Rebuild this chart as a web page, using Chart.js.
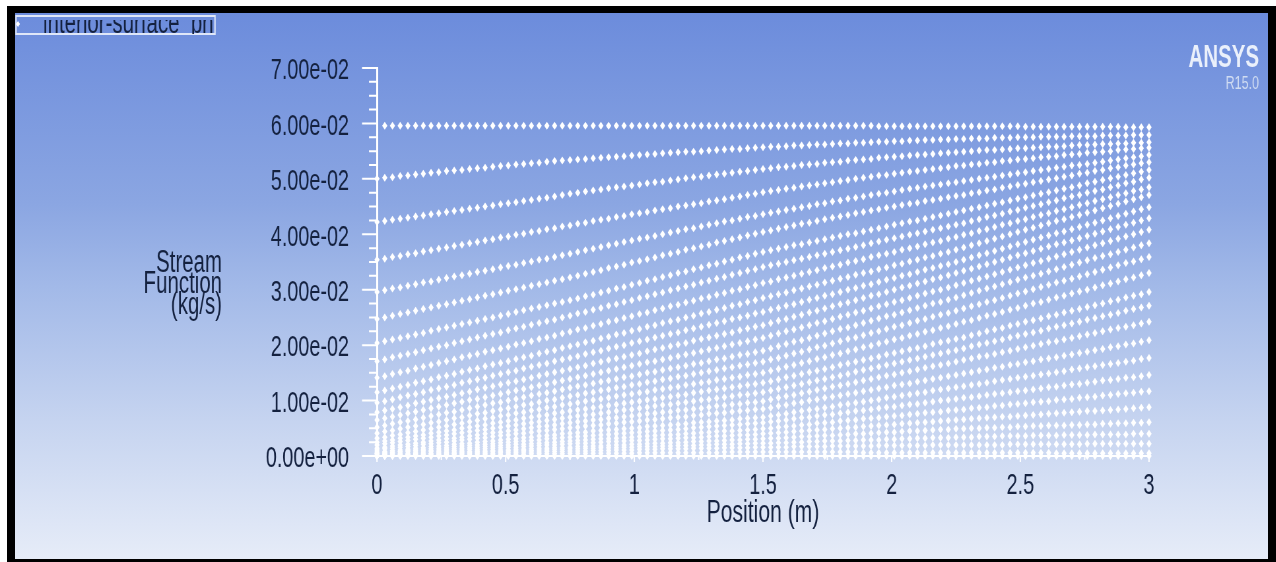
<html lang="en">
<head>
<meta charset="utf-8">
<title>Stream Function</title>
<script src="https://cdn.jsdelivr.net/npm/chart.js"></script>
<style>
    html, body { margin: 0; height: 100%; background: white; overflow: hidden; }
    .frame { position: absolute; left: 7px; top: 6px; width: 1269px; height: 556px; background: black; }
    .inner {
        position: absolute; left: 15px; top: 13px; width: 1253px; height: 546px;
        background: linear-gradient(to bottom, #6c8cdc 0%, #8ba6e2 35%, #a2b9e8 50%, #c6d4f0 75%, #e6ecf8 100%);
    }
    /* the original picture is a wide plot squeezed sideways, so draw it wide and squeeze it too */
    #chart { position: absolute; left: 0; top: 0; transform-origin: 0 0; transform: scaleX(0.66); filter: blur(0.5px); }
</style>
</head>
<body>
<div class="frame"></div>
<div class="inner"></div>
<canvas id="chart" width="1933" height="562"></canvas>
<script>
// Position (m) of each mesh column
const positions = [0,0.03,0.06,0.09,0.12,0.15,0.18,0.21,0.24,0.27,0.3,0.33,0.36,0.39,0.42,0.45,0.48,0.51,0.54,0.57,0.6,0.63,0.66,0.69,0.72,0.75,
0.78,0.81,0.84,0.87,0.9,0.93,0.96,0.99,1.02,1.05,1.08,1.11,1.14,1.17,1.2,1.23,1.26,1.29,1.32,1.35,1.38,1.41,1.44,1.47,1.5,
1.53,1.56,1.59,1.62,1.65,1.68,1.71,1.74,1.77,1.8,1.83,1.86,1.89,1.92,1.95,1.98,2.01,2.04,2.07,2.1,2.13,2.16,2.19,2.22,2.25,
2.28,2.31,2.34,2.37,2.4,2.43,2.46,2.49,2.52,2.55,2.58,2.61,2.64,2.67,2.7,2.73,2.76,2.79,2.82,2.85,2.88,2.91,2.94,2.97,3];

// Stream function per mesh row, in units of 1e-4 kg/s
const row01 = [null,596,596,596,596,596,596,596,596,596,596,596,596,596,596,596,596,596,596,596,596,596,596,596,596,596,
596,596,596,596,596,596,596,596,596,596,596,596,596,596,596,596,596,596,596,596,596,596,596,596,596,
596,596,596,596,596,596,596,596,596,596,596,596,596,596,595,595,595,595,595,595,595,595,595,595,595,
595,595,595,595,595,595,595,595,594,594,594,594,594,594,594,594,594,594,594,594,594,593,593,593,593];
const row02 = [500,502,503,505,506,508,509,511,512,514,515,516,518,519,520,522,523,524,526,527,528,529,531,532,533,534,
535,536,537,538,539,540,541,542,543,544,545,546,547,548,549,549,550,551,552,553,554,554,555,556,557,
558,558,559,560,560,561,562,562,563,564,564,565,565,566,567,567,568,568,569,569,570,570,571,571,572,
572,573,573,573,574,574,574,575,575,575,576,576,576,576,577,577,577,577,578,578,578,578,579,579,579];
const row03 = [422,424,426,428,430,432,434,436,438,440,442,444,446,448,450,452,454,456,458,460,462,464,466,468,471,473,
475,477,479,481,483,485,486,488,490,492,494,495,497,499,501,503,504,506,508,509,511,513,514,516,518,
519,521,522,523,525,526,527,529,530,531,533,534,535,536,538,539,540,541,542,543,544,545,546,547,548,
549,550,551,552,552,553,554,555,555,556,557,558,558,559,560,561,561,562,563,563,564,564,565,565,566];
const row04 = [354,356,359,361,364,366,369,371,374,376,379,381,384,386,389,391,394,396,399,401,404,406,409,411,414,416,
419,421,424,426,428,431,433,436,438,440,443,445,447,450,452,454,456,459,461,463,466,468,471,473,476,
478,480,482,484,486,488,490,492,494,496,498,500,502,504,506,507,509,511,513,514,516,518,519,521,523,
524,526,527,529,530,532,533,535,536,537,539,540,541,543,544,545,547,548,549,550,552,553,554,555,556];
const row05 = [296,299,302,304,307,310,313,315,318,321,324,326,329,332,334,337,340,343,345,348,351,354,356,359,362,365,
368,371,374,377,380,383,386,389,392,394,397,400,403,406,409,411,414,417,420,423,425,428,431,433,436,
439,441,444,446,449,451,454,456,459,461,464,466,468,471,473,475,477,480,482,484,486,488,490,492,494,
496,498,500,502,504,506,508,510,512,514,516,518,520,522,524,525,527,529,531,533,535,537,539,541,543];
const row06 = [247,250,253,256,259,262,265,268,271,274,277,280,283,286,289,292,295,298,301,304,307,310,313,316,319,322,
325,329,332,335,339,342,345,349,352,355,358,362,365,368,372,375,378,381,385,388,391,394,398,401,404,
407,410,413,416,419,421,424,427,430,432,435,438,440,443,445,448,450,453,455,457,460,462,464,467,469,
471,474,476,479,481,484,486,489,491,494,496,499,501,504,506,509,511,514,516,519,521,524,526,528,530];
const row07 = [204,207,210,213,216,219,222,226,229,232,235,238,241,244,247,250,253,256,260,263,266,269,272,275,278,281,
284,288,291,295,298,302,305,309,312,316,319,323,326,330,333,337,340,344,347,351,354,358,361,365,368,
371,374,377,380,382,385,388,391,394,397,400,402,405,408,411,414,417,420,423,425,428,431,434,437,440,
443,446,449,452,455,458,461,464,467,470,473,476,479,482,485,488,492,495,498,501,504,507,510,513,516];
const row08 = [171,174,178,181,184,187,191,194,197,200,204,207,210,214,217,220,223,227,230,233,237,240,243,246,250,253,
257,260,264,267,271,274,278,281,285,288,292,295,299,302,306,309,313,316,320,323,327,330,334,337,341,
344,347,350,353,356,359,362,365,368,371,374,377,380,384,387,390,393,396,399,402,405,408,411,414,417,
420,424,427,431,434,437,441,444,448,451,454,458,461,465,468,471,475,478,481,485,488,492,495,499,502];
const row09 = [141,144,148,151,154,158,161,164,168,171,174,178,181,184,188,191,194,197,201,204,207,211,214,217,221,224,
228,231,235,238,242,245,249,252,256,259,263,266,270,273,277,280,284,287,291,294,298,301,305,308,312,
315,319,322,325,329,332,335,339,342,345,349,352,355,359,362,365,368,372,375,378,382,385,388,392,395,
399,402,406,409,413,417,420,424,427,431,435,438,442,445,449,453,456,460,463,467,471,474,478,481,485];
const row10 = [115,118,122,125,128,132,135,138,142,145,148,152,155,158,162,165,168,171,175,178,181,185,188,191,195,198,
201,205,208,212,215,219,222,226,229,233,236,240,243,246,250,253,257,260,264,267,271,274,278,281,285,
288,292,295,299,302,306,309,313,316,320,323,327,330,333,337,340,344,347,351,354,358,361,365,368,372,
376,380,384,388,392,396,400,404,408,412,416,420,424,427,431,435,439,443,447,451,455,459,463,467,471];
const row11 = [96,99,102,106,109,112,115,119,122,125,128,132,135,138,141,145,148,151,154,158,161,164,167,171,174,177,
180,184,187,190,194,197,200,204,207,210,214,217,220,223,227,230,233,237,240,243,247,250,253,257,260,
264,267,271,274,278,282,285,289,292,296,300,303,307,310,314,318,321,325,328,332,336,339,343,346,350,
354,358,362,366,370,374,378,382,386,390,394,398,402,405,409,413,417,421,425,429,433,437,441,445,449];
const row12 = [79,82,85,88,91,95,98,101,104,107,110,113,116,120,123,126,129,132,135,138,141,145,148,151,154,157,
160,163,167,170,173,176,179,182,185,189,192,195,198,201,204,208,211,214,217,220,223,227,230,233,236,
240,244,247,251,255,259,262,266,270,274,277,281,285,289,292,296,300,304,307,311,315,319,322,326,330,
334,338,342,346,350,354,358,362,366,370,374,378,382,385,389,393,397,401,405,409,413,417,421,425,429];
const row13 = [65,68,71,74,77,80,83,86,89,92,95,98,101,103,106,109,112,115,118,121,124,127,130,133,136,139,
142,145,148,151,154,157,160,163,166,169,171,174,177,180,183,186,189,192,195,198,201,204,207,210,213,
217,221,225,228,232,236,240,243,247,251,255,259,262,266,270,274,278,281,285,289,293,297,300,304,308,
312,316,320,324,328,332,336,340,344,348,352,356,360,364,368,372,376,380,384,388,392,396,400,404,408];
const row14 = [52,55,58,61,63,66,69,72,75,78,80,83,86,89,92,95,97,100,103,106,109,112,114,117,120,123,
126,128,131,134,136,139,142,144,147,150,152,155,158,160,163,166,168,171,174,176,179,182,184,187,190,
194,198,202,206,209,213,217,221,225,229,232,236,240,244,248,252,255,259,263,267,271,275,278,282,286,
290,294,298,302,306,310,314,318,322,325,329,333,337,341,345,349,353,357,361,364,368,372,376,380,384];
const row15 = [41,44,46,49,52,54,57,60,62,65,68,70,73,76,78,81,84,86,89,92,94,97,100,102,105,108,
110,113,115,118,120,123,125,128,130,133,135,138,140,143,145,148,150,153,155,158,160,163,165,168,170,
174,177,181,185,188,192,196,199,203,207,211,214,218,222,225,229,233,236,240,244,247,251,255,258,262,
266,270,274,278,281,285,289,293,297,301,305,309,313,316,320,324,328,332,336,340,344,348,351,355,359];
const row16 = [32,34,37,39,42,44,47,49,52,54,57,59,62,64,67,69,72,74,77,79,82,84,87,89,92,94,
96,99,101,103,105,108,110,112,114,116,119,121,123,125,128,130,132,134,137,139,141,143,146,148,150,
154,157,161,164,168,171,175,178,182,185,189,192,196,199,203,206,210,213,217,220,224,227,231,234,238,
242,245,249,253,256,260,264,267,271,275,278,282,286,289,293,297,300,304,308,311,315,319,322,326,330];
const row17 = [25,27,29,32,34,36,38,41,43,45,47,50,52,54,56,59,61,63,65,68,70,72,74,77,79,81,
83,85,87,89,91,93,95,97,99,101,103,105,107,109,111,114,116,118,120,122,124,126,128,130,132,
135,138,142,145,148,151,154,157,160,164,167,170,173,176,179,183,186,189,192,195,198,202,205,208,211,
214,218,221,225,228,231,235,238,242,245,248,252,255,259,262,265,269,272,275,279,282,286,289,292,296];
const row18 = [20,22,24,26,28,30,32,34,36,38,40,42,44,46,48,50,52,54,56,58,60,62,64,66,68,70,
72,74,75,77,79,81,83,84,86,88,90,92,93,95,97,99,101,102,104,106,108,110,111,113,115,
118,121,124,127,130,133,136,139,142,145,148,152,155,158,161,164,167,170,173,176,179,182,185,188,191,
194,198,201,204,207,210,214,217,220,223,226,230,233,236,239,242,246,249,252,255,258,262,265,268,271];
const row19 = [14,16,18,20,21,23,25,27,29,31,32,34,36,38,40,42,43,45,47,49,51,53,54,56,58,60,
62,63,65,66,68,69,71,72,74,76,77,79,80,82,83,85,86,88,90,91,93,94,96,97,99,
102,105,108,110,113,116,119,122,125,127,130,133,136,139,142,145,147,150,153,156,159,162,164,167,170,
173,176,179,181,184,187,190,193,196,199,202,205,207,210,213,216,219,222,225,228,231,233,236,239,242];
const row20 = [11,13,14,16,17,19,21,22,24,25,27,29,30,32,33,35,37,38,40,41,43,45,46,48,49,51,
52,54,55,56,58,59,61,62,63,65,66,67,69,70,71,73,74,76,77,78,80,81,82,84,85,
87,90,92,95,97,100,102,105,107,109,112,114,117,119,122,124,127,129,131,134,136,139,141,144,146,
149,151,154,156,159,161,164,166,169,171,174,176,178,181,183,186,188,191,193,196,198,201,203,206,209];
const row21 = [7,8,10,11,12,14,15,17,18,19,21,22,23,25,26,27,29,30,31,33,34,36,37,38,40,41,
42,43,45,46,47,48,49,50,51,53,54,55,56,57,58,60,61,62,63,64,65,67,68,69,70,
72,74,76,79,81,83,85,87,89,92,94,96,98,100,102,105,107,109,111,113,115,118,120,122,124,
126,128,130,132,135,137,139,141,143,145,147,149,151,153,156,158,160,162,164,166,168,170,172,175,177];
const row22 = [5,6,7,8,10,11,12,13,14,15,17,18,19,20,21,22,24,25,26,27,28,29,31,32,33,34,
35,36,37,38,39,40,41,42,43,44,45,46,47,48,49,51,52,53,54,55,56,57,58,59,60,
62,63,65,67,69,70,72,74,75,77,79,81,82,84,86,88,89,91,93,94,96,98,100,101,103,
105,106,108,110,112,113,115,117,118,120,122,124,125,127,129,130,132,134,136,137,139,141,142,144,146];
const row23 = [4,5,6,7,8,9,10,10,11,12,13,14,15,16,17,18,19,20,21,21,22,23,24,25,26,27,
28,29,30,31,31,32,33,34,35,36,37,38,38,39,40,41,42,43,44,45,45,46,47,48,49,
50,52,53,54,56,57,59,60,61,63,64,65,67,68,69,71,72,73,75,76,78,79,80,82,83,
84,86,87,88,90,91,93,94,95,97,98,99,101,102,103,105,106,107,109,110,112,113,114,116,117];
const row24 = [2,3,4,4,5,6,7,8,8,9,10,11,12,12,13,14,15,16,16,17,18,19,20,20,21,22,
23,23,24,25,26,26,27,28,28,29,30,31,31,32,33,33,34,35,36,36,37,38,38,39,40,
41,42,43,44,45,46,47,48,49,50,51,52,53,54,55,56,57,58,59,60,61,62,63,64,65,
66,67,68,69,70,71,71,72,73,74,75,76,77,78,79,80,81,81,82,83,84,85,86,87,88];
const row25 = [1,2,2,3,3,4,5,5,6,6,7,8,8,9,9,10,11,11,12,12,13,14,14,15,15,16,
17,17,18,18,19,20,20,21,21,22,23,23,24,24,25,26,26,27,27,28,29,29,30,30,31,
32,32,33,34,35,35,36,37,37,38,39,40,40,41,42,43,43,44,45,45,46,47,48,48,49,
49,50,50,51,51,52,52,53,53,54,54,55,55,55,56,56,57,57,58,58,59,59,60,60,61];
const row26 = [0,1,1,2,2,3,3,4,4,5,5,6,6,7,7,8,8,9,9,10,10,11,11,12,12,13,
13,14,14,15,15,15,16,16,17,17,17,18,18,19,19,19,20,20,21,21,21,22,22,23,23,
23,24,24,25,25,26,26,27,27,27,28,28,29,29,29,30,30,31,31,32,32,33,33,33,34,
34,34,35,35,35,36,36,36,36,37,37,37,37,38,38,38,38,39,39,39,39,39,40,40,40];
const row27 = [0,0,1,1,2,2,2,3,3,3,4,4,4,5,5,5,6,6,6,7,7,7,8,8,8,9,
9,9,10,10,10,11,11,11,12,12,12,13,13,13,13,14,14,14,14,15,15,15,15,16,16,
16,16,16,17,17,17,17,17,18,18,18,18,18,18,19,19,19,19,19,19,19,20,20,20,20,
20,20,20,20,20,20,21,21,21,21,21,21,21,21,21,21,22,22,22,22,22,22,22,22,22];
const row28 = [0,0,0,1,1,1,1,1,2,2,2,2,2,2,3,3,3,3,3,3,4,4,4,4,4,5,
5,5,5,5,5,5,5,5,6,6,6,6,6,6,6,6,6,6,6,7,7,7,7,7,7,
7,7,7,7,7,7,7,7,7,7,7,7,6,6,6,6,6,6,6,6,6,6,6,6,6,
6,6,6,6,6,6,6,6,6,6,6,6,5,5,5,5,5,5,5,5,5,5,5,5,5];
const row29 = [0,0,0,0,0,0,0,0,0,0,0,0,0,0,0,0,0,0,0,0,0,0,0,0,0,0,
0,0,0,0,0,0,0,0,0,0,0,0,0,0,0,0,0,0,0,0,0,0,0,0,0,
0,0,0,0,0,0,0,0,0,0,0,0,0,0,0,0,0,0,0,0,0,0,0,0,0,
0,0,0,0,0,0,0,0,0,0,0,0,0,0,0,0,0,0,0,0,0,0,0,0,0];

const rows = [row01,row02,row03,row04,row05,row06,row07,row08,row09,row10,row11,row12,row13,row14,row15,
    row16,row17,row18,row19,row20,row21,row22,row23,row24,row25,row26,row27,row28,row29];

const xTickLabels = ["0","0.5","1","1.5","2","2.5","3"];
const yTickLabels = ["0.00e+00","1.00e-02","2.00e-02","3.00e-02","4.00e-02","5.00e-02","6.00e-02","7.00e-02"];
const yTitleLines = ["Stream","Function","(kg/s)"];
const legendLabel = "interior-surface_pn";

const squeeze = 0.66;
const textColor = "#14213f";
const fontName = "'Liberation Sans', Arial, sans-serif";

function sx(px) { return px / squeeze; }

// the scale ticks come in two lengths and Chart.js only has one, so draw them here from the scales
const axisTicks = {
    id: "axisTicks",
    afterDatasetsDraw(chart) {
        const ctx = chart.ctx, x = chart.scales.x, y = chart.scales.y;
        ctx.save();
        ctx.strokeStyle = "white";
        ctx.lineWidth = 2;
        ctx.beginPath();
        for (let i = 0; i <= 28; i++) {
            const py = y.getPixelForValue(i * 0.0025);
            ctx.moveTo(x.left, py);
            ctx.lineTo(x.left - sx(i % 4 == 0 ? 15 : 8), py);
        }
        for (let i = 0; i <= 12; i++) {
            const px = x.getPixelForValue(i * 0.25);
            ctx.moveTo(px, y.bottom);
            ctx.lineTo(px, y.bottom + (i % 2 == 0 ? 6 : 4));
        }
        ctx.stroke();
        ctx.restore();
    }
};

// axis title, legend box and logo
const annotations = {
    id: "annotations",
    afterDraw(chart) {
        const ctx = chart.ctx;
        ctx.save();
        ctx.fillStyle = textColor;
        ctx.textAlign = "right";
        ctx.textBaseline = "alphabetic";
        ctx.font = "31px " + fontName;
        yTitleLines.forEach((line, i) => ctx.fillText(line, sx(222), 272 + i * 21));

        ctx.strokeStyle = "#dfe7f8";
        ctx.lineWidth = 2;
        ctx.strokeRect(sx(16), 16, sx(199), 18);
        ctx.fillStyle = "white";
        ctx.beginPath();
        ctx.moveTo(sx(18) - 3, 24);
        ctx.lineTo(sx(18), 21);
        ctx.lineTo(sx(18) + 3, 24);
        ctx.lineTo(sx(18), 27);
        ctx.fill();

        ctx.save();
        ctx.beginPath();
        ctx.rect(sx(30), 20, sx(185), 14);
        ctx.clip();
        ctx.fillStyle = textColor;
        ctx.textAlign = "left";
        ctx.font = "31px " + fontName;
        ctx.fillText(legendLabel, sx(43), 33);
        ctx.restore();

        ctx.textAlign = "right";
        ctx.fillStyle = "#eaf0fb";
        ctx.font = "bold 31px " + fontName;
        ctx.fillText("ANSYS", sx(1259), 67);
        ctx.fillStyle = "#d0dcf2";
        ctx.font = "19px " + fontName;
        ctx.fillText("R15.0", sx(1259), 89);
        ctx.restore();
    }
};

const datasets = rows.map(function (row) {
    const points = [];
    row.forEach(function (v, i) {
        if (v !== null) points.push({ x: positions[i], y: v / 10000 });
    });
    return {
        data: points,
        showLine: false,
        clip: false,
        pointStyle: "rectRot",
        pointRadius: 4,
        pointBorderWidth: 0,
        pointBackgroundColor: "white"
    };
});

new Chart(document.getElementById("chart"), {
    type: "scatter",
    data: { datasets: datasets },
    plugins: [axisTicks, annotations],
    options: {
        responsive: false,
        animation: false,
        devicePixelRatio: 1,
        layout: { padding: { top: 68, right: 1933 - sx(1149), bottom: 0, left: 0 } },
        plugins: { legend: { display: false }, tooltip: { enabled: false } },
        scales: {
            x: {
                type: "linear",
                min: 0,
                max: 3,
                afterFit(scale) { scale.height = 562 - 456; },
                grid: { display: true, drawOnChartArea: false, drawTicks: false },
                border: { color: "white", width: 2 },
                ticks: {
                    stepSize: 0.5,
                    padding: 12,
                    maxRotation: 0,
                    color: textColor,
                    font: { size: 30, family: fontName },
                    callback: (v, i) => xTickLabels[i]
                },
                title: {
                    display: true,
                    text: "Position (m)",
                    color: textColor,
                    font: { size: 32, family: fontName },
                    padding: { top: 0, bottom: 30 }
                }
            },
            y: {
                type: "linear",
                min: 0,
                max: 0.07,
                afterFit(scale) { scale.width = sx(377); },
                grid: { display: true, drawOnChartArea: false, drawTicks: false },
                border: { color: "white", width: 3 },
                ticks: {
                    stepSize: 0.01,
                    padding: sx(28),
                    labelOffset: 3,
                    color: textColor,
                    font: { size: 30, family: fontName },
                    callback: (v, i) => yTickLabels[i]
                }
            }
        }
    }
});
</script>
</body>
</html>
